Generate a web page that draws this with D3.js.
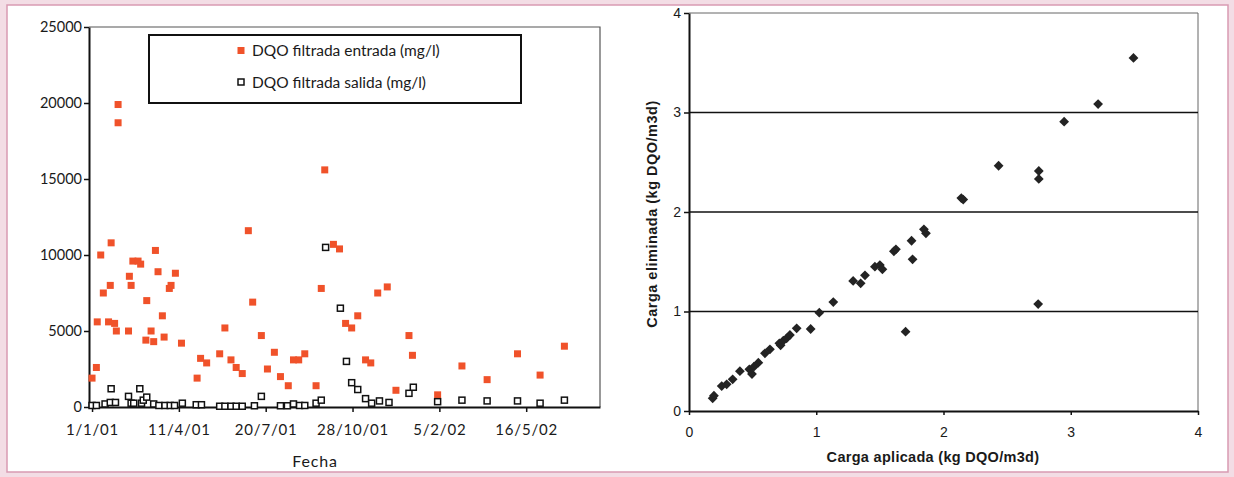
<!DOCTYPE html>
<html>
<head>
<meta charset="utf-8">
<script src="https://cdn.jsdelivr.net/npm/d3@7"></script>
<style>
	html, body { margin: 0; padding: 0; background: #fff; }
	svg { display: block; }
	.left text { font-family: Lato, "Open Sans", sans-serif; fill: #1a1a1a; }
	.right text { font-family: "Liberation Sans", Arial, sans-serif; fill: #1a1a1a; }
</style>
</head>
<body>
<svg id="chart" width="1234" height="477"></svg>
<script>
	//DATA
	var entradaFechas = ["2001-01-01", "2001-01-06", "2001-01-07", "2001-01-11", "2001-01-14", "2001-01-20", "2001-01-22", "2001-01-23",
		"2001-01-27", "2001-01-29", "2001-01-31", "2001-01-31", "2001-02-12", "2001-02-13", "2001-02-15", "2001-02-17", "2001-02-23",
		"2001-02-26", "2001-03-04", "2001-03-05", "2001-03-10", "2001-03-13", "2001-03-15", "2001-03-18", "2001-03-23", "2001-03-25",
		"2001-03-31", "2001-04-02", "2001-04-07", "2001-04-14", "2001-05-02", "2001-05-06", "2001-05-13", "2001-05-28", "2001-06-03",
		"2001-06-10", "2001-06-16", "2001-06-23", "2001-06-30", "2001-07-05", "2001-07-15", "2001-07-22", "2001-07-30", "2001-08-06",
		"2001-08-15", "2001-08-21", "2001-08-27", "2001-09-03", "2001-09-16", "2001-09-22", "2001-09-26", "2001-10-06", "2001-10-13",
		"2001-10-20", "2001-10-27", "2001-11-03", "2001-11-12", "2001-11-18", "2001-11-26", "2001-12-07", "2001-12-17", "2002-01-01",
		"2002-01-05", "2002-02-03", "2002-03-03", "2002-04-01", "2002-05-06", "2002-06-01", "2002-06-29"];
	var entradaValores = [1900, 2600, 5600, 10000, 7500, 5600, 8000, 10800,
		5500, 5000, 19900, 18700, 5000, 8600, 8000, 9600, 9600,
		9400, 4400, 7000, 5000, 4300, 10300, 8900, 6000, 4600,
		7800, 8000, 8800, 4200, 1900, 3200, 2900, 3500, 5200,
		3100, 2600, 2200, 11600, 6900, 4700, 2500, 3600, 2000,
		1400, 3100, 3100, 3500, 1400, 7800, 15600, 10700, 10400,
		5500, 5200, 6000, 3100, 2900, 7500, 7900, 1100, 4700,
		3400, 800, 2700, 1800, 3500, 2100, 4000];

	var salidaFechas = ["2001-01-01", "2001-01-06", "2001-01-16", "2001-01-22", "2001-01-23", "2001-01-28", "2001-02-12", "2001-02-15",
		"2001-02-18", "2001-02-25", "2001-02-27", "2001-03-01", "2001-03-05", "2001-03-13", "2001-03-19", "2001-03-26", "2001-04-01",
		"2001-04-06", "2001-04-15", "2001-05-01", "2001-05-07", "2001-05-28", "2001-06-03", "2001-06-10", "2001-06-16", "2001-06-23",
		"2001-07-07", "2001-07-15", "2001-08-06", "2001-08-14", "2001-08-21", "2001-08-28", "2001-09-03", "2001-09-16", "2001-09-22",
		"2001-09-27", "2001-10-14", "2001-10-21", "2001-10-27", "2001-11-03", "2001-11-12", "2001-11-19", "2001-11-28", "2001-12-09",
		"2002-01-01", "2002-01-06", "2002-02-03", "2002-03-03", "2002-04-01", "2002-05-06", "2002-06-01", "2002-06-29"];
	var salidaValores = [100, 100, 200, 300, 1200, 300, 700, 250,
		250, 1200, 250, 450, 650, 200, 100, 100, 100,
		100, 250, 150, 150, 50, 50, 50, 50, 50,
		80, 700, 80, 80, 200, 100, 100, 250, 450,
		10500, 6500, 3000, 1600, 1150, 550, 250, 400, 300,
		900, 1300, 350, 450, 400, 400, 250, 450];

	var fechaTicks = ["2001-01-01", "2001-04-11", "2001-07-20", "2001-10-28", "2002-02-05", "2002-05-16"];
	var dqoTicks = [0, 5000, 10000, 15000, 20000, 25000];
	var leyenda = ["DQO filtrada entrada (mg/l)", "DQO filtrada salida (mg/l)"];

	var cargaAplicada = [0.186, 0.196, 0.257, 0.296, 0.343, 0.40, 0.474, 0.495, 0.51, 0.545, 0.597, 0.636,
		0.71, 0.72, 0.741, 0.767, 0.793, 0.846, 0.956, 1.024, 1.134, 1.29, 1.349, 1.383, 1.461, 1.5, 1.52,
		1.61, 1.626, 1.702, 1.749, 1.757, 1.846, 1.862, 2.14, 2.155, 2.433, 2.744, 2.749, 2.749, 2.948, 3.215, 3.493];
	var cargaEliminada = [0.128, 0.154, 0.251, 0.268, 0.318, 0.40, 0.419, 0.372, 0.445, 0.486, 0.58, 0.62,
		0.68, 0.66, 0.707, 0.73, 0.764, 0.831, 0.824, 0.988, 1.095, 1.307, 1.283, 1.364, 1.45, 1.467, 1.424,
		1.605, 1.625, 0.797, 1.711, 1.524, 1.826, 1.786, 2.14, 2.125, 2.465, 1.075, 2.412, 2.332, 2.908, 3.085, 3.548];
	var cargaTicks = [0, 1, 2, 3, 4];

	var svg = d3.select("#chart");
	var parseDate = d3.timeParse("%Y-%m-%d");

	// pink page frame
	svg.append("rect").attr("x", 0).attr("y", 0).attr("width", 1234).attr("height", 477).attr("fill", "#f3dde5");
	svg.append("rect").attr("x", 7).attr("y", 5).attr("width", 1221).attr("height", 467)
		.attr("fill", "#fff").attr("stroke", "#d99ab2").attr("stroke-width", 1.5);

	drawLeft(svg.append("g").attr("class", "left"));
	drawRight(svg.append("g").attr("class", "right"));

	function drawLeft(g) {
		var x = d3.scaleTime()
			.domain([new Date(2000, 11, 28, 12), new Date(2002, 7, 9)])
			.range([89, 600]);
		var y = d3.scaleLinear().domain([0, 25000]).range([407, 27]);

		// frame top/right
		g.append("path").attr("d", "M89,27H600V407")
			.attr("fill", "none").attr("stroke", "#555").attr("stroke-width", 1.2);

		var yAxis = d3.axisLeft(y).tickValues(dqoTicks).tickFormat(d3.format("d")).tickSize(5).tickSizeOuter(0).tickPadding(2);
		var ya = g.append("g").attr("transform", "translate(89,0)").call(yAxis);
		var xAxis = d3.axisBottom(x).tickValues(fechaTicks.map(parseDate))
			.tickFormat(d3.timeFormat("%-d/%-m/%y")).tickSize(5).tickSizeOuter(0).tickPadding(12);
		var xa = g.append("g").attr("transform", "translate(0,407)").call(xAxis);
		[ya, xa].forEach(function (a) {
			a.select(".domain").attr("stroke", "#111").attr("stroke-width", 2);
			a.selectAll(".tick line").attr("stroke", "#111").attr("stroke-width", 1.5);
			a.selectAll("text").attr("font-size", 14.5).attr("fill", "#1a1a1a")
				.style("font-family", "Lato, 'Open Sans', sans-serif");
		});
		xa.selectAll("text").attr("font-size", 15).style("letter-spacing", "0.8px");

		// entrada: filled red squares
		g.selectAll(".entrada")
			.data(entradaFechas).enter()
			.append("rect")
			.attr("class", "entrada")
			.attr("x", function (d) { return x(parseDate(d)) - 3.5 })
			.attr("y", function (d, i) { return y(entradaValores[i]) - 3.5 })
			.attr("width", 7).attr("height", 7)
			.attr("fill", "#f0522a");

		// salida: open black squares
		g.selectAll(".salida")
			.data(salidaFechas).enter()
			.append("rect")
			.attr("class", "salida")
			.attr("x", function (d) { return x(parseDate(d)) - 3 })
			.attr("y", function (d, i) { return y(salidaValores[i]) - 3 })
			.attr("width", 6).attr("height", 6)
			.attr("fill", "#fff").attr("stroke", "#111").attr("stroke-width", 1.5);

		g.append("text").text("Fecha")
			.attr("x", 315).attr("y", 467).attr("text-anchor", "middle").attr("font-size", 16)
			.style("letter-spacing", "0.8px");

		// legend
		var lg = g.append("g");
		lg.append("rect").attr("x", 149).attr("y", 35).attr("width", 372).attr("height", 68)
			.attr("fill", "#fff").attr("stroke", "#111").attr("stroke-width", 2);
		lg.selectAll("rect.mk").data(leyenda).enter().append("rect")
			.attr("class", "mk")
			.attr("x", function (d, i) { return i ? 238 : 237.5 })
			.attr("y", function (d, i) { return 47 + 32 * i })
			.attr("width", function (d, i) { return i ? 6 : 7 })
			.attr("height", function (d, i) { return i ? 6 : 7 })
			.attr("fill", function (d, i) { return i ? "#fff" : "#f0522a" })
			.attr("stroke", function (d, i) { return i ? "#111" : "none" })
			.attr("stroke-width", 1.5);
		lg.selectAll("text.lt").data(leyenda).enter().append("text")
			.attr("class", "lt")
			.text(function (d) { return d })
			.attr("x", 252)
			.attr("y", function (d, i) { return 56 + 32 * i })
			.attr("font-size", 15.5);
	}

	function drawRight(g) {
		var x = d3.scaleLinear().domain([0, 4]).range([689, 1198]);
		var y = d3.scaleLinear().domain([0, 4]).range([411, 13]);

		// frame top/right
		g.append("path").attr("d", "M689,13H1198V411")
			.attr("fill", "none").attr("stroke", "#666").attr("stroke-width", 1);

		// gridlines
		g.selectAll(".grid").data(cargaTicks.slice(1, 4)).enter().append("line")
			.attr("class", "grid")
			.attr("x1", 689).attr("x2", 1198)
			.attr("y1", function (d) { return y(d) }).attr("y2", function (d) { return y(d) })
			.attr("stroke", "#111").attr("stroke-width", 1.6);

		var yAxis = d3.axisLeft(y).tickValues(cargaTicks).tickFormat(d3.format("d")).tickSize(5).tickSizeOuter(0).tickPadding(3);
		var ya = g.append("g").attr("transform", "translate(689,0)").call(yAxis);
		var xAxis = d3.axisBottom(x).tickValues(cargaTicks).tickFormat(d3.format("d")).tickSize(4).tickSizeOuter(0).tickPadding(12);
		var xa = g.append("g").attr("transform", "translate(0,411)").call(xAxis);
		[ya, xa].forEach(function (a) {
			a.select(".domain").attr("stroke", "#111").attr("stroke-width", 2);
			a.selectAll(".tick line").attr("stroke", "#111").attr("stroke-width", 1.5);
			a.selectAll("text").attr("font-size", 14).attr("fill", "#1a1a1a")
				.style("font-family", "'Liberation Sans', Arial, sans-serif");
		});

		var diamond = d3.symbol().type(d3.symbolSquare).size(48);
		g.selectAll(".pt").data(cargaAplicada).enter().append("path")
			.attr("class", "pt")
			.attr("d", diamond)
			.attr("transform", function (d, i) {
				return "translate(" + x(d) + "," + y(cargaEliminada[i]) + ") rotate(45)";
			})
			.attr("fill", "#232323");

		g.append("text").text("Carga aplicada (kg DQO/m3d)")
			.attr("x", 933).attr("y", 462).attr("text-anchor", "middle")
			.attr("font-size", 14.5).attr("font-weight", "bold").style("letter-spacing", "0.3px");
		g.append("text").text("Carga eliminada (kg DQO/m3d)")
			.attr("transform", "translate(657,214) rotate(-90)").attr("text-anchor", "middle")
			.attr("font-size", 14.5).attr("font-weight", "bold").style("letter-spacing", "0.5px");
	}
</script>
</body>
</html>
